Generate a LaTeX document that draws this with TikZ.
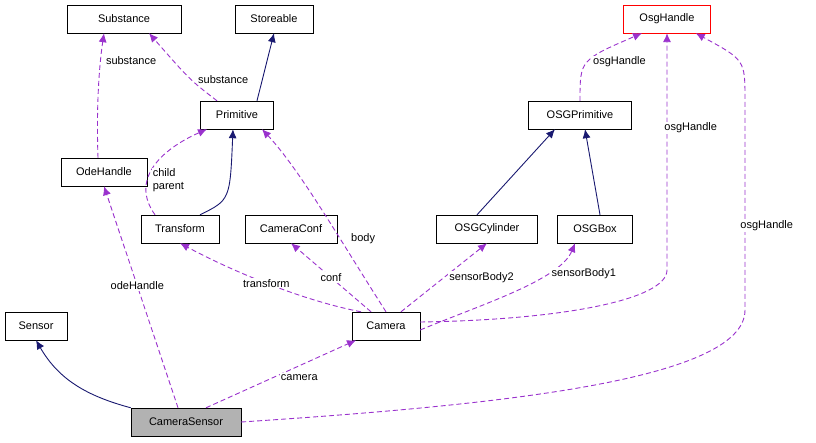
\documentclass[tikz,border=0pt]{standalone}
\usepackage{fontspec}
\setmainfont{Liberation Sans}
\usetikzlibrary{arrows.meta}
\definecolor{usecol}{HTML}{9A32CD}
\definecolor{inhcol}{HTML}{191970}

\begin{document}
\begin{tikzpicture}[x=1pt,y=-1pt, font=\fontsize{11}{13}\selectfont,
		class_style/.style={rectangle,draw=black,fill=white,minimum height=28pt,inner xsep=4pt},
		use_style/.style={draw=usecol,dashed,line width=0.9pt,dash pattern=on 5pt off 3pt,-{Latex[length=9pt,width=8pt]}},
		inh_style/.style={draw=inhcol,line width=0.9pt,-{Latex[length=9pt,width=8pt]}},
		lbl/.style={fill=white,inner sep=1pt}]
		\useasboundingbox (0,0) rectangle (816,443);
		
		\node[class_style,minimum width=114pt] (substance) at (124,19) {Substance};
		\node[class_style,minimum width=78pt] (storeable) at (274,19) {Storeable};
		\node[class_style,minimum width=87pt,draw=red] (osghandle) at (667,19) {OsgHandle};
		\node[class_style,minimum width=73pt] (primitive) at (237,115) {Primitive};
		\node[class_style,minimum width=103pt] (osgprimitive) at (580,115) {OSGPrimitive};
		\node[class_style,minimum width=86pt] (odehandle) at (104,172) {OdeHandle};
		\node[class_style,minimum width=78pt] (transform) at (180,229) {Transform};
		\node[class_style,minimum width=92pt] (cameraconf) at (291,229) {CameraConf};
		\node[class_style,minimum width=101pt] (osgcylinder) at (487,229) {OSGCylinder};
		\node[class_style,minimum width=75pt] (osgbox) at (595,229) {OSGBox};
		\node[class_style,minimum width=62pt] (sensor) at (36,326) {Sensor};
		\node[class_style,minimum width=68pt] (camera) at (386,326) {Camera};
		\node[class_style,minimum width=110pt,fill=black!30] (camerasensor) at (186,422) {CameraSensor};
		
		\draw[inh_style] (camerasensor.north west) to[out=165,in=-60] (sensor.south);
		\draw[use_style] ([xshift=20pt]camerasensor.north) -- node[lbl,pos=0.45,right=6pt]{camera} ([xshift=-30pt]camera.south);
		\draw[use_style] ([xshift=-8pt]camerasensor.north) -- node[lbl,pos=0.55]{odeHandle} (odehandle.south);
		\draw[use_style] (camerasensor.east) .. controls (500,405) and (745,380) .. (745,310)
			-- node[lbl,pos=0.4,right=-6pt]{osgHandle} (745,100) .. controls (745,60) .. ([xshift=-15pt]osghandle.south east);
		\draw[use_style] ([xshift=-6pt]odehandle.north) .. controls (96,100) and (100,60) .. node[lbl,right=4pt,pos=0.7]{substance} ([xshift=-20pt]substance.south);
		\draw[use_style] ([xshift=-20pt]primitive.north) .. controls (190,80) .. node[lbl,pos=0.45,right=6pt]{substance} ([xshift=25pt]substance.south);
		\draw[inh_style] ([xshift=20pt]primitive.north) -- (storeable.south);
		\draw[use_style] ([xshift=-25pt]transform.north) .. controls (130,180) and (160,150) .. node[lbl,right=4pt,pos=0.35,align=left]{child\\parent} ([xshift=-30pt]primitive.south);
		\draw[inh_style] ([xshift=20pt]transform.north) .. controls (230,200) .. ([xshift=-4pt]primitive.south);
		\draw[use_style] (camera.north) .. controls (340,240) and (300,170) .. node[lbl,pos=0.35,right=10pt]{body} ([xshift=25pt]primitive.south);
		\draw[use_style] ([xshift=-25pt]camera.north) .. controls (300,300) and (230,270) .. node[lbl,pos=0.5]{transform} (transform.south);
		\draw[use_style] ([xshift=-15pt]camera.north) -- node[lbl,pos=0.5]{conf} (cameraconf.south);
		\draw[use_style] ([xshift=15pt]camera.north) -- node[lbl,pos=0.5,right=4pt]{sensorBody2} (osgcylinder.south);
		\draw[use_style] ([yshift=-4pt]camera.east) .. controls (480,305) and (560,280) .. node[lbl,pos=0.7,right=4pt]{sensorBody1} ([xshift=-20pt]osgbox.south);
		\draw[use_style] ([yshift=4pt]camera.east) .. controls (560,320) and (667,300) .. (667,270)
			-- node[lbl,pos=0.6,right=-4pt]{osgHandle} (osghandle.south);
		\draw[use_style] (osgprimitive.north) .. controls (580,60) .. node[lbl,pos=0.5,right=4pt]{osgHandle} ([xshift=-25pt]osghandle.south);
		\draw[inh_style] ([xshift=-10pt]osgcylinder.north) -- ([xshift=-25pt]osgprimitive.south);
		\draw[inh_style] ([xshift=5pt]osgbox.north) -- ([xshift=5pt]osgprimitive.south);
		
		\end{tikzpicture}
\end{document}
